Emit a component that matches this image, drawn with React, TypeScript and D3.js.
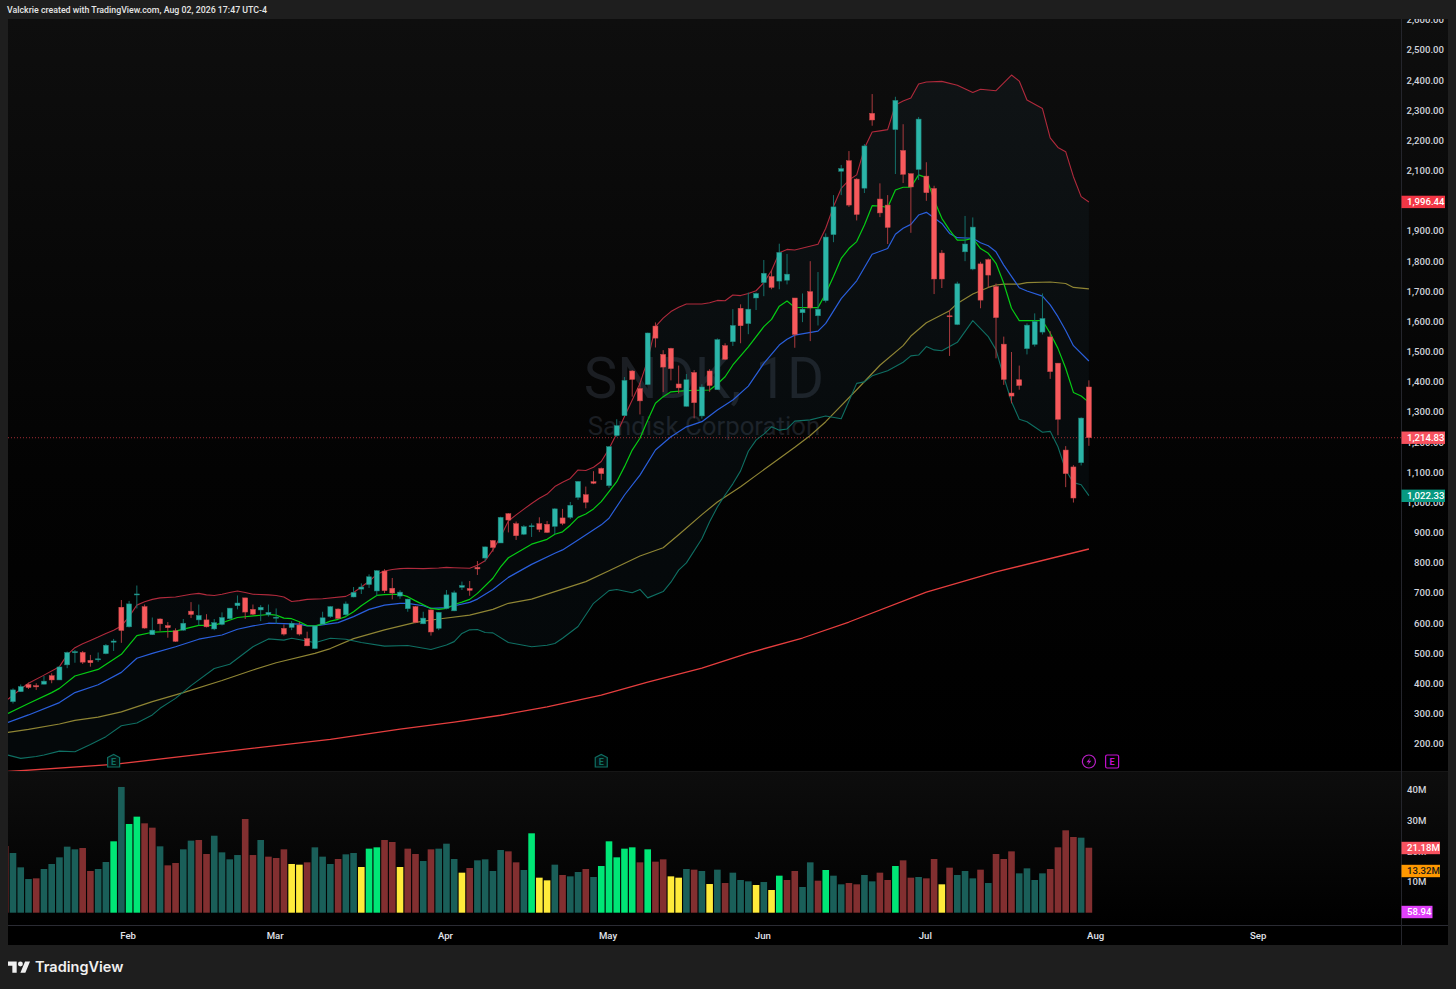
import * as d3 from 'd3'

// daily candles, oldest first
const opens = [340,373,397,393,398,426,412,462,502,503,477,479,499,537,653,588,695,655,562,614,592,575,577,640,611,611,581,596,615,658,684,646,644,628,617,583,586,594,549,516,597,622,647,628,687,713,728,707,773,716,690,648,655,598,644,583,649,641,719,715,785,816,874,866,963,930,895,920,930,928,921,949,951,1017,1026,1069,1113,1056,1222,1288,1436,1378,1391,1585,1491,1511,1393,1319,1431,1287,1436,1374,1520,1533,1644,1593,1678,1729,1749,1734,1737,1678,1629,1699,1619,1669,1888,2098,2133,2072,2042,2290,2006,1986,2236,2167,2090,2104,2082,2041,1827,1619,1590,1831,1774,1791,1805,1716,1525,1363,1407,1510,1524,1565,1549,1462,1174,1118,1132,1383]
const highs = [384,397,403,401,425,434,458,506,511,508,495,503,531,548,677,674,725,662,619,616,604,583,614,670,662,630,614,636,650,692,684,662,660,662,649,596,607,605,572,591,638,657,649,672,720,732,762,776,779,750,709,681,657,638,646,637,710,708,738,740,806,854,876,953,965,937,925,931,951,939,981,979,1002,1071,1053,1104,1116,1187,1276,1416,1439,1397,1563,1597,1505,1513,1454,1426,1439,1392,1442,1544,1528,1641,1657,1696,1696,1804,1771,1858,1824,1678,1693,1800,1764,1892,2019,2119,2165,2075,2188,2354,2058,2019,2345,2254,2090,2278,2128,2050,1837,1638,1732,1950,1945,1798,1809,1726,1550,1499,1454,1594,1627,1693,1568,1462,1187,1124,1282,1405]
const lows = [334,372,382,379,397,401,412,451,469,465,456,472,497,508,535,586,649,582,561,575,552,538,575,617,593,586,577,593,613,646,614,627,607,622,598,559,577,559,524,514,594,618,614,625,686,697,717,691,700,679,681,638,600,597,559,577,646,640,710,691,760,805,837,866,901,876,892,886,902,899,895,925,945,1009,981,1061,1075,1049,1218,1287,1351,1292,1389,1514,1366,1405,1362,1318,1279,1278,1367,1373,1473,1519,1528,1558,1638,1684,1707,1707,1723,1513,1598,1535,1587,1663,1863,2019,1980,1935,2026,2249,1946,1857,2089,2059,1894,2069,2000,1691,1711,1486,1588,1800,1770,1644,1713,1478,1390,1329,1374,1491,1517,1557,1410,1223,1051,1000,1123,1188]
const closes = [379,390,387,389,408,412,455,503,506,471,469,482,527,541,576,664,697,584,577,598,585,540,600,629,626,588,602,619,650,667,637,630,653,636,620,564,600,564,525,591,618,655,616,664,702,720,754,774,708,700,703,680,603,617,571,636,694,701,725,709,780,853,851,951,942,890,920,923,911,901,979,931,991,1070,1001,1064,1096,1185,1255,1405,1408,1337,1562,1545,1449,1444,1380,1407,1331,1383,1388,1540,1475,1587,1586,1641,1693,1760,1713,1829,1757,1557,1641,1645,1641,1880,1980,2107,1986,1955,2182,2268,1960,1912,2333,2088,2046,2271,2027,1741,1741,1616,1725,1857,1913,1671,1754,1613,1408,1353,1388,1588,1600,1610,1434,1276,1096,1015,1280,1215]

// indicator lines as [bar, price] readings
const upperBand = [[-0.65,348],[1,382],[2,401],[4,428],[6,456],[7,495],[8,519],[9,532],[10,543],[11,554],[12,566],[13,577],[14,591],[15,622],[16,660],[17,671],[18,679],[19,684],[21,687],[23,696],[24,699],[25,694],[26,692],[27,696],[28,702],[29,707],[30,702],[31,696],[33,694],[34,692],[35,687],[36,672],[37,675],[38,679],[40,681],[43,689],[44,702],[45,720],[46,739],[47,762],[48,773],[49,778],[50,781],[51,782],[53,781],[55,783],[56,785],[57,784],[59,782],[60,792],[61,807],[62,843],[63,887],[64,939],[65,959],[66,978],[67,997],[68,1014],[69,1028],[70,1053],[71,1067],[72,1080],[73,1108],[74,1106],[75,1117],[76,1136],[77,1178],[78,1229],[79,1285],[80,1340],[81,1395],[82,1472],[83,1583],[84,1611],[85,1633],[86,1647],[87,1658],[89,1658],[90,1662],[91,1670],[92,1669],[93,1688],[94,1686],[95,1693],[96,1702],[97,1729],[98,1769],[99,1828],[100,1839],[101,1837],[104,1856],[105,1909],[106,1981],[107,2041],[108,2069],[109,2086],[110,2174],[111,2228],[112,2232],[113,2236],[114,2318],[115,2331],[116,2341],[117,2387],[118,2394],[120,2396],[122,2383],[124,2359],[125,2370],[127,2365],[129,2417],[130,2397],[131,2334],[133,2306],[134,2209],[135,2177],[136,2163],[137,2080],[138,2014],[139,1996]]
const lowerBand = [[-0.65,163],[1,152],[3,158],[4,163],[6,176],[8,174],[10,198],[12,224],[14,260],[16,269],[18,296],[19,318],[21,351],[23,393],[26,450],[28,464],[31,522],[33,548],[35,544],[36,550],[38,541],[39,535],[41,550],[43,547],[45,536],[48,524],[51,526],[54,513],[56,528],[57,539],[58,566],[59,578],[60,579],[61,569],[62,568],[64,536],[67,522],[69,527],[70,533],[71,550],[73,589],[75,666],[77,708],[78,712],[80,701],[81,712],[82,684],[84,705],[85,736],[86,776],[87,800],[89,880],[90,936],[91,985],[92,1025],[93,1062],[94,1105],[95,1170],[96,1207],[97,1227],[98,1251],[99,1240],[100,1244],[101,1270],[103,1274],[105,1287],[107,1278],[109,1395],[110,1400],[111,1420],[113,1437],[115,1465],[116,1486],[117,1489],[118,1517],[119,1506],[120,1503],[122,1531],[124,1603],[126,1550],[127,1506],[128,1417],[129,1334],[130,1276],[131,1268],[133,1233],[134,1236],[135,1185],[136,1108],[137,1066],[138,1059],[139,1023]]
const fastAvg = [[-0.65,301],[2,334],[5,370],[6,384],[8,425],[11,447],[14,497],[16,559],[18,570],[21,574],[24,593],[26,593],[29,619],[33,629],[34,627],[35,617],[36,615],[37,605],[38,592],[39,591],[40,597],[41,607],[42,613],[43,622],[44,638],[45,658],[46,675],[47,692],[48,695],[50,696],[51,688],[52,674],[54,649],[55,646],[56,649],[57,662],[58,670],[59,679],[60,699],[62,749],[63,787],[64,817],[65,832],[67,862],[69,878],[70,895],[71,903],[72,925],[73,951],[74,962],[75,979],[76,1003],[77,1036],[78,1069],[79,1119],[80,1174],[81,1213],[82,1273],[83,1329],[84,1351],[85,1367],[87,1371],[90,1373],[91,1393],[92,1417],[93,1456],[95,1516],[97,1583],[98,1607],[99,1651],[100,1668],[101,1647],[104,1646],[105,1693],[106,1749],[107,1809],[108,1842],[109,1865],[110,1920],[111,1984],[112,1983],[113,1978],[114,2036],[115,2045],[116,2045],[117,2086],[118,2077],[119,2003],[120,1942],[121,1903],[122,1870],[123,1870],[124,1876],[125,1842],[126,1826],[127,1793],[128,1727],[129,1644],[130,1603],[133,1603],[134,1561],[135,1511],[136,1445],[137,1365],[138,1353],[139,1332]]
const midAvg = [[-0.65,271],[2,296],[6,337],[8,370],[11,396],[14,437],[16,484],[18,500],[21,522],[24,547],[27,561],[29,580],[31,591],[33,600],[37,597],[38,591],[39,591],[42,602],[44,622],[46,646],[48,660],[50,666],[51,666],[53,658],[54,649],[56,652],[59,669],[60,680],[62,712],[64,752],[67,795],[70,832],[71,843],[73,876],[76,926],[77,948],[79,1025],[81,1091],[83,1174],[85,1218],[87,1251],[89,1268],[91,1307],[93,1340],[95,1386],[97,1461],[99,1522],[100,1541],[101,1555],[104,1568],[105,1594],[107,1676],[109,1735],[111,1823],[113,1842],[114,1889],[115,1909],[116,1922],[117,1953],[118,1962],[120,1925],[121,1892],[122,1878],[124,1876],[125,1861],[126,1851],[127,1831],[128,1787],[130,1712],[131,1701],[133,1684],[134,1655],[135,1616],[136,1570],[137,1520],[139,1469]]
const slowAvg = [[-0.65,238],[2,248],[6,266],[8,278],[11,289],[14,306],[18,340],[22,370],[27,410],[31,445],[34,469],[39,500],[41,516],[44,549],[48,578],[52,603],[55,614],[59,627],[62,646],[64,666],[67,680],[71,713],[74,738],[77,774],[81,823],[84,850],[86,893],[89,960],[91,1002],[94,1052],[96,1090],[99,1146],[101,1183],[103,1222],[105,1268],[106,1295],[109,1374],[112,1455],[115,1520],[116,1552],[118,1596],[121,1636],[122,1660],[124,1691],[126,1713],[127,1721],[128,1724],[130,1724],[131,1729],[134,1731],[136,1726],[137,1713],[139,1708]]
const longAvg = [[-1,108],[1,111],[13,132],[41,215],[50,249],[57,272],[63,295],[69,323],[76,362],[82,405],[89,451],[95,501],[102,551],[108,604],[118,703],[127,770],[139,846]]

// volume in millions, first value belongs to the bar cut off at the left edge
const volumes = [21.75,19.46,14.79,10.98,11.2,14.25,15.88,18.05,21.53,20.66,21.09,13.6,14.25,16.53,23.27,40.99,28.92,31.31,29.14,27.72,21.64,15.44,16.2,20.66,23.49,23.7,19.14,25.1,19.68,17.4,18.8,30.55,18.8,23.7,18.27,17.83,20.66,15.88,15.66,16.42,21.31,18.27,15.88,17.51,19.03,19.46,14.9,20.88,21.31,23.7,23.05,14.9,20.88,19.14,16.85,20.66,20.88,22.5,17.51,13.05,14.57,17.07,17.4,13.6,20.44,20,16.42,13.92,25.88,11.42,10.55,15.66,12.29,11.85,13.27,14.25,11.64,15.22,23.27,18.05,20.88,21.31,16.42,20.66,16.64,17.4,11.85,11.42,14.25,14.03,13.6,9.35,14.03,9.68,13.05,10.66,10.22,9.03,10,7.4,12.07,10.66,13.6,8.38,16.42,10.44,13.92,12.07,9.25,9.68,9.25,12.29,10.22,13.05,10.66,15.22,17.07,11.42,11.64,11.2,17.51,9.25,14.68,12.29,13.6,11.2,14.03,9.68,19.14,17.51,20,12.83,14.46,10.66,12.83,14.25,21.31,26.86,24.68,24.46,21.18]
// t up, r down, g high volume up, y low volume
const volumeKinds = 'rtttrtttttrrttgtggrrtrrttrrttttrrtrrryyrtttrttyggrryrrtrtttyrttttrrtgyytrttrtgggggrgrryytrtytrtttytygrrttrgttrrttrrgrrtrryrtttrtrrrttttrrrrtr'

const priceTicks = [2600,2500,2400,2300,2200,2100,2000,1900,1800,1700,1600,1500,1400,1300,1200,1100,1000,900,800,700,600,500,400,300,200]
const volumeTicks = [40,30,20,10]
const monthNames = ['Feb','Mar','Apr','May','Jun','Jul','Aug','Sep']
const monthBars = [15,34,56,77,97,118,140,161]
const earningsBars = [13,76]

const lastPrice = 1214.83
const upperLast = 1996.44
const lowerLast = 1022.33

const W = 1456
const H = 989
const left = 8
const right = 1448
const axisX = 1401
const top = 19
const paneBottom = 771
const volBottom = 925
const chartBottom = 945

const x = d3.scaleLinear().domain([0, 139]).range([13, 1088.9])
const y = d3.scaleLinear().domain([200, 2500]).range([743.9, 50])
const yVol = d3.scaleLinear().domain([0, 40]).range([912.7, 790])

const line = d3
    .line<number[]>()
    .x((d) => x(d[0]))
    .y((d) => y(d[1]))

const kindColor: any = { t: '#1a5f59', r: '#822f30', g: '#00e676', y: '#ffeb3b' }
const fmt = d3.format(',.2f')
const axisFont = 'Roboto, sans-serif'
const axisSize = 9.6

const Chip = ({ cy, w, fill, color, label }: any) => (
    <g>
        <rect x={axisX + 0.5} y={cy - 6.2} width={w} height={12.4} fill={fill} />
        <text x={axisX + 6} y={cy + 3.4} fontSize={axisSize} fontWeight={500} fill={color} fontFamily={axisFont}>
            {label}
        </text>
    </g>
)

export default function App() {
    const bandPath = line([...upperBand, ...[...lowerBand].reverse()]) + 'Z'
    const barW = 5

    return (
        <svg
            width={W}
            height={H}
            viewBox={`0 0 ${W} ${H}`}
            style={{ position: 'absolute', left: 0, top: 0, display: 'block' }}
        >
            <defs>
                <linearGradient id="pane" x1="0" y1="0" x2="0" y2="1">
                    <stop offset="0" stopColor="#0e0e0e" />
                    <stop offset="0.6" stopColor="#030303" />
                    <stop offset="1" stopColor="#000" />
                </linearGradient>
                <linearGradient id="vol" x1="0" y1="0" x2="0" y2="1">
                    <stop offset="0" stopColor="#0d0d0d" />
                    <stop offset="1" stopColor="#000" />
                </linearGradient>
                <clipPath id="price-clip">
                    <rect x={left} y={top} width={axisX - left} height={paneBottom - top} />
                </clipPath>
                <clipPath id="vol-clip">
                    <rect x={left} y={paneBottom} width={axisX - left} height={volBottom - paneBottom} />
                </clipPath>
                <clipPath id="axis-clip">
                    <rect x={axisX} y={top} width={right - axisX} height={chartBottom - top} />
                </clipPath>
            </defs>

            <rect width={W} height={H} fill="#1e1e1e" />
            <rect x={left} y={top} width={right - left} height={paneBottom - top} fill="url(#pane)" />
            <rect x={left} y={paneBottom} width={right - left} height={volBottom - paneBottom} fill="url(#vol)" />
            <rect x={left} y={volBottom} width={right - left} height={chartBottom - volBottom} fill="#000" />

            <text x={7} y={13} fontSize={8.8} fontWeight={500} fill="#e6e6e6" fontFamily={axisFont}>
                Valckrie created with TradingView.com, Aug 02, 2026 17:47 UTC-4
            </text>

            {/* watermark */}
            <text x={704} y={397.5} textAnchor="middle" fontSize={56.5} fill="#1b1e23" fontFamily={axisFont}>
                SNDK, 1D
            </text>
            <text x={704} y={435} textAnchor="middle" fontSize={25.8} fill="#1b1e23" fontFamily={axisFont}>
                Sandisk Corporation
            </text>

            <g clipPath="url(#price-clip)">
                <path d={bandPath} fill="#4fa0c8" fillOpacity={0.05} />

                <line
                    x1={left}
                    x2={axisX}
                    y1={y(lastPrice)}
                    y2={y(lastPrice)}
                    stroke="#c8363f"
                    strokeOpacity={0.8}
                    strokeDasharray="1 2"
                />

                <g fill="none" strokeWidth={1} strokeLinejoin="round">
                    <path d={line(longAvg) as string} stroke="#e53e3e" strokeWidth={1.3} />
                    <path d={line(slowAvg) as string} stroke="#8f8534" strokeWidth={1.2} />
                    <path d={line(lowerBand) as string} stroke="#0f6f63" strokeWidth={1.1} />
                    <path d={line(upperBand) as string} stroke="#b02a3c" strokeWidth={1.1} />
                    <path d={line(midAvg) as string} stroke="#2a5fdc" strokeWidth={1.2} />
                    <path d={line(fastAvg) as string} stroke="#06cc14" strokeWidth={1.2} />
                </g>

                {closes.map((c, i) => {
                    const up = c >= opens[i]
                    const bodyTop = y(Math.max(c, opens[i]))
                    const bodyH = Math.max(1, Math.abs(y(c) - y(opens[i])))
                    return (
                        <g key={i}>
                            <line
                                x1={x(i)}
                                x2={x(i)}
                                y1={y(highs[i])}
                                y2={y(lows[i])}
                                stroke={up ? '#14706a' : '#a93a3e'}
                                strokeWidth={1}
                            />
                            <rect
                                x={x(i) - barW / 2}
                                y={bodyTop}
                                width={barW}
                                height={bodyH}
                                fill={up ? '#2bb5a8' : '#f7595c'}
                                stroke={up ? '#1c8278' : '#c9484c'}
                                strokeWidth={0.5}
                            />
                        </g>
                    )
                })}

                {earningsBars.map((b) => (
                    <g key={b} transform={`translate(${x(b)},761)`}>
                        <path d="M-6,-3.5 L0,-6.5 L6,-3.5 L6,6 L-6,6 Z" fill="#021412" stroke="#0f6f63" strokeWidth={1.2} />
                        <text y={3.5} textAnchor="middle" fontSize={9} fontWeight={700} fill="#0f6f63" fontFamily={axisFont}>
                            E
                        </text>
                    </g>
                ))}
                <g transform={`translate(${x(139)},761.5)`}>
                    <circle r={6.5} fill="none" stroke="#b81fc4" strokeWidth={1.2} />
                    <path d="M1.5,-4 L-2.5,0.8 L0,0.8 L-1.5,4 L2.5,-0.8 L0,-0.8 Z" fill="#b81fc4" />
                </g>
                <g transform={`translate(${x(142)},761.5)`}>
                    <rect x={-6.5} y={-6.5} width={13} height={13} rx={1.5} fill="none" stroke="#c40fd0" strokeWidth={1.2} />
                    <text y={3.5} textAnchor="middle" fontSize={9} fontWeight={700} fill="#c40fd0" fontFamily={axisFont}>
                        E
                    </text>
                </g>
            </g>

            <g clipPath="url(#vol-clip)">
                {volumes.map((v, k) => {
                    const bar = k - 1
                    return (
                        <rect
                            key={k}
                            x={x(bar) - 3.3}
                            y={yVol(v)}
                            width={6.6}
                            height={yVol(0) - yVol(v)}
                            fill={kindColor[volumeKinds[k]]}
                        />
                    )
                })}
            </g>

            {/* separators */}
            <line x1={left} x2={right} y1={paneBottom + 0.5} y2={paneBottom + 0.5} stroke="#161616" />
            <line x1={left} x2={right} y1={volBottom + 0.5} y2={volBottom + 0.5} stroke="#2a2b33" />
            <line x1={axisX + 0.5} x2={axisX + 0.5} y1={top} y2={chartBottom} stroke="#24252c" />

            <g clipPath="url(#axis-clip)" fontFamily={axisFont} fontSize={axisSize} fontWeight={500} fill="#d1d4dc">
                {priceTicks.map((p) => (
                    <text key={p} x={1444} y={y(p) + 3.4} textAnchor="end">
                        {fmt(p)}
                    </text>
                ))}
                {volumeTicks.map((v) => (
                    <text key={v} x={1407} y={yVol(v) + 3.4}>
                        {v}M
                    </text>
                ))}
            </g>

            <Chip cy={y(upperLast)} w={43.5} fill="#f23645" color="#fff" label={fmt(upperLast)} />
            <Chip cy={y(lastPrice)} w={43.5} fill="#f7525f" color="#fff" label={fmt(lastPrice)} />
            <Chip cy={y(lowerLast)} w={43.5} fill="#089981" color="#fff" label={fmt(lowerLast)} />
            <Chip cy={848} w={38.5} fill="#f7525f" color="#fff" label="21.18M" />
            <Chip cy={871} w={38.5} fill="#ff9800" color="#1a1a1a" label="13.32M" />
            <Chip cy={912} w={31} fill="#e040fb" color="#fff" label="58.94" />

            <g fontFamily={axisFont} fontSize={axisSize} fontWeight={500} fill="#e0e3eb" textAnchor="middle">
                {monthNames.map((m, i) => (
                    <text key={m} x={x(monthBars[i]) - 1} y={938.5}>
                        {m}
                    </text>
                ))}
            </g>

            <g transform="translate(8,959) scale(0.62)" fill="#f0f0f0">
                <path d="M14 22H7V11H0V4h14v18zM28 22h-8l7.5-18h8L28 22z" />
                <circle cx={20} cy={8} r={4} />
            </g>
            <text x={35} y={972} fontSize={14.5} fontWeight={600} fill="#f0f0f0" fontFamily="Inter, sans-serif">
                TradingView
            </text>
        </svg>
    )
}
